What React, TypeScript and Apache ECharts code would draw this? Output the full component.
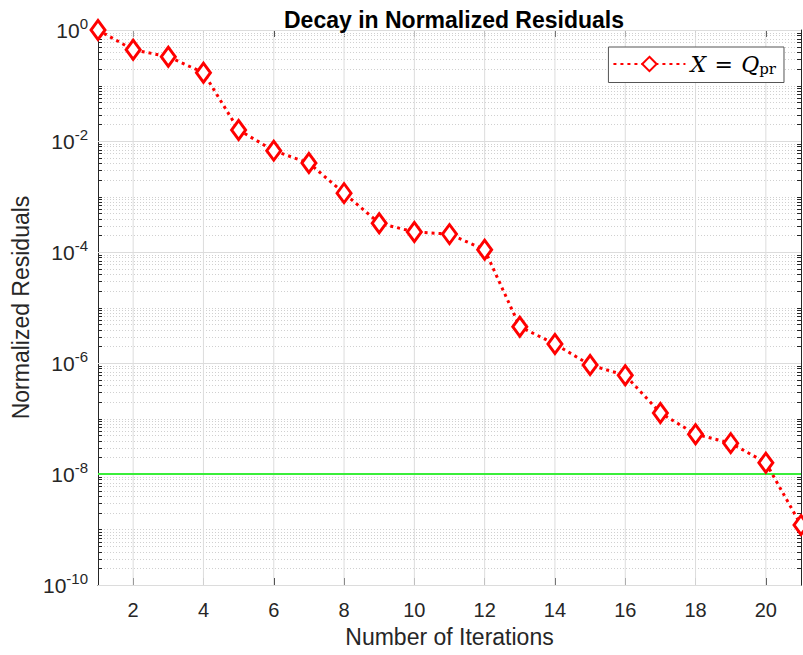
import React, { useEffect, useRef } from "react";
import * as echarts from "echarts";

const iterations = [1, 2, 3, 4, 5, 6, 7, 8, 9, 10, 11, 12, 13, 14, 15, 16, 17, 18, 19, 20, 21];
const residuals = [
  1.0, 0.44, 0.33, 0.17, 0.0158, 0.0067, 0.004, 0.00115, 3.3e-4, 2.3e-4, 2.1e-4,
  1.1e-4, 4.5e-6, 2.2e-6, 9.2e-7, 6.0e-7, 1.26e-7, 5.2e-8, 3.6e-8, 1.6e-8, 1.2e-9,
];
const thresholdValue = 1e-8;
const xTickValues = [2, 4, 6, 8, 10, 12, 14, 16, 18, 20];
const yMajorExponents = [0, -2, -4, -6, -8, -10];
const minorMantissas = [1, 2, 3, 4, 5, 6, 7, 8, 9];
const decadeExponents = [-10, -9, -8, -7, -6, -5, -4, -3, -2, -1];

const FONT = "Liberation Sans, Arial, Helvetica, sans-serif";
const SERIF = "DejaVu Serif, Liberation Serif, serif";
const TXT = "#262626";

export default function App() {
  const ref = useRef<HTMLDivElement>(null);
  useEffect(() => {
    if (!ref.current) return;
    const chart = echarts.init(ref.current, null, { renderer: "svg" });

    const gridData: number[][] = [];
    decadeExponents.forEach((e) => {
      minorMantissas.forEach((m) => {
        const v = m * Math.pow(10, e);
        const isMajor = m === 1 && yMajorExponents.includes(e);
        if (!isMajor) gridData.push([1, v, 0]);
      });
    });
    yMajorExponents.forEach((e) => gridData.push([1, Math.pow(10, e), 1]));
    xTickValues.forEach((x) => gridData.push([x, 1, 2]));

    const lineData = iterations.map((x, i) => [x, residuals[i]]);

    const yLabel = (v: number) => {
      const ex = Math.round(Math.log10(v));
      return `{b|10}{s|${ex}}`;
    };

    chart.setOption({
      animation: false,
      backgroundColor: "#ffffff",
      title: {
        text: "Decay in Normalized Residuals",
        left: 449,
        top: 3,
        textAlign: "center",
        textStyle: { fontFamily: FONT, fontWeight: "bold", fontSize: 23, color: "#000" },
      },
      legend: {
        data: ["X = Qpr"],
        right: 19,
        top: 47,
        backgroundColor: "#ffffff",
        borderColor: "#555",
        borderWidth: 1,
        borderRadius: 0,
        padding: [6, 8, 6, 4],
        itemWidth: 72,
        itemHeight: 18,
        itemGap: 8,
        formatter: () => "{i|X} {n|=} {i|Q}{s|pr}",
        textStyle: {
          rich: {
            i: { fontFamily: SERIF, fontStyle: "italic", fontSize: 22, color: "#000" },
            n: { fontFamily: SERIF, fontSize: 22, color: "#000", padding: [0, 5, 0, 5] },
            s: { fontFamily: SERIF, fontSize: 15, color: "#000", padding: [10, 0, 0, 0] },
          },
        },
      },
      grid: { left: 98, right: 2, top: 30, bottom: 70, containLabel: false },
      xAxis: [
        {
          type: "value",
          min: 1,
          max: 21,
          name: "Number of Iterations",
          nameLocation: "middle",
          nameGap: 40,
          nameTextStyle: { fontFamily: FONT, fontSize: 23, color: TXT },
          axisLine: { show: true, onZero: false, lineStyle: { color: TXT, width: 1 } },
          axisTick: { show: true, inside: true, length: 7, customValues: xTickValues, lineStyle: { color: TXT } },
          axisLabel: { show: true, customValues: xTickValues, fontFamily: FONT, fontSize: 20, color: TXT, margin: 15 },
          splitLine: { show: false },
        },
        {
          type: "value",
          min: 1,
          max: 21,
          position: "top",
          axisLine: { show: true, onZero: false, lineStyle: { color: TXT, width: 1 } },
          axisTick: { show: true, inside: true, length: 7, customValues: xTickValues, lineStyle: { color: TXT } },
          axisLabel: { show: false },
          splitLine: { show: false },
        },
      ],
      yAxis: [
        {
          type: "log",
          logBase: 10,
          min: 1e-10,
          max: 1,
          interval: 2,
          name: "Normalized Residuals",
          nameLocation: "middle",
          nameGap: 66,
          nameTextStyle: { fontFamily: FONT, fontSize: 23, color: TXT },
          axisLine: { show: true, onZero: false, lineStyle: { color: TXT, width: 1 } },
          axisTick: { show: true, inside: true, length: 7, lineStyle: { color: TXT } },
          axisLabel: {
            show: true,
            margin: 10,
            formatter: yLabel,
            rich: {
              b: { fontFamily: FONT, fontSize: 21, color: TXT },
              s: { fontFamily: FONT, fontSize: 15, color: TXT, padding: [0, 0, 13, 0] },
            },
          },
          splitLine: { show: false },
          minorTick: { show: false },
        },
        {
          type: "log",
          logBase: 10,
          min: 1e-10,
          max: 1,
          interval: 2,
          position: "right",
          axisLine: { show: true, onZero: false, lineStyle: { color: TXT, width: 1 } },
          axisTick: { show: true, inside: true, length: 7, lineStyle: { color: TXT } },
          axisLabel: { show: false },
          splitLine: { show: false },
        },
      ],
      series: [
        {
          type: "custom",
          name: "grid",
          xAxisIndex: 0,
          yAxisIndex: 0,
          silent: true,
          z: 1,
          clip: false,
          encode: { x: 0, y: 1 },
          data: gridData,
          renderItem: (params: any, api: any) => {
            const kind = api.value(2);
            const cs = params.coordSys;
            if (kind === 2) {
              const p = api.coord([api.value(0), 1]);
              return {
                type: "line",
                shape: { x1: p[0], y1: cs.y, x2: p[0], y2: cs.y + cs.height },
                style: { stroke: "#dcdcdc", lineWidth: 1 },
              };
            }
            const p = api.coord([1, api.value(1)]);
            const y = Math.round(p[1]) + 0.5;
            const children: any[] = [
              {
                type: "line",
                shape: { x1: cs.x, y1: y, x2: cs.x + cs.width, y2: y },
                style:
                  kind === 1
                    ? { stroke: "#dcdcdc", lineWidth: 1 }
                    : { stroke: "#d0d0d0", lineWidth: 1, lineDash: [1, 2] },
              },
            ];
            if (kind === 0) {
              children.push({
                type: "line",
                shape: { x1: cs.x, y1: y, x2: cs.x + 4, y2: y },
                style: { stroke: TXT, lineWidth: 1 },
              });
              children.push({
                type: "line",
                shape: { x1: cs.x + cs.width - 4, y1: y, x2: cs.x + cs.width, y2: y },
                style: { stroke: TXT, lineWidth: 1 },
              });
            }
            return { type: "group", children };
          },
        },
        {
          type: "line",
          name: "threshold",
          xAxisIndex: 0,
          yAxisIndex: 0,
          z: 2,
          symbol: "none",
          silent: true,
          lineStyle: { color: "#3aee3a", width: 2 },
          data: [
            [1, thresholdValue],
            [21, thresholdValue],
          ],
        },
        {
          type: "line",
          name: "X = Qpr",
          xAxisIndex: 0,
          yAxisIndex: 0,
          z: 3,
          data: lineData,
          symbol: "diamond",
          symbolSize: [14, 19],
          showAllSymbol: true,
          clip: true,
          lineStyle: { color: "#ff0000", width: 3, type: [3, 4] },
          itemStyle: { color: "#ffffff", borderColor: "#ff0000", borderWidth: 3 },
          color: "#ff0000",
        },
      ],
    });
    return () => chart.dispose();
  }, []);
  return (
    <div
      ref={ref}
      style={{ position: "fixed", left: 0, top: 0, width: 803, height: 655, background: "#fff" }}
    />
  );
}
